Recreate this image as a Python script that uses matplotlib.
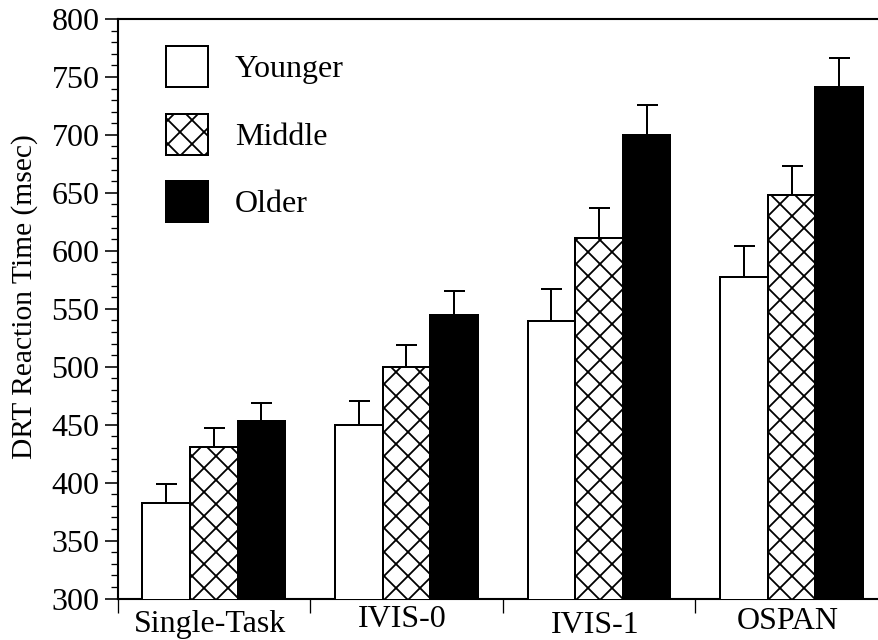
import matplotlib
matplotlib.use("Agg")
import matplotlib.pyplot as plt
import numpy as np
from matplotlib.ticker import MultipleLocator
from matplotlib.patches import Patch

categories = ["Single-Task", "IVIS-0", "IVIS-1", "OSPAN"]
groups = ["Younger", "Middle", "Older"]
younger = [382, 450, 539, 577]
middle = [431, 500, 611, 648]
older = [453, 545, 700, 741]
younger_err = [17, 20, 28, 27]
middle_err = [16, 19, 26, 25]
older_err = [16, 20, 26, 25]
yticks = [300, 350, 400, 450, 500, 550, 600, 650, 700, 750, 800]

DPI = 72  # 1 pt == 1 px
plt.rcParams['font.family'] = ['Liberation Serif', 'DejaVu Serif']
plt.rcParams['hatch.linewidth'] = 1.8
plt.rcParams['hatch.color'] = 'black'

fig = plt.figure(figsize=(878 / DPI, 640 / DPI), dpi=DPI)
W, H = 878, 640
left_px, right_px, top_px, bot_px = 117.5, 888.0, 19.0, 598.5
aw, ah = right_px - left_px, bot_px - top_px
ax = fig.add_axes([left_px / W, 1 - bot_px / H, aw / W, ah / H])

def ax_x(px):
    return (px - left_px) / aw

def ax_y(py):
    return 1 - (py - top_px) / ah

x = np.arange(len(categories))
bw = 0.247
series = [(younger, younger_err, 'white', ''), (middle, middle_err, 'white', 'x'), (older, older_err, 'black', '')]
for i, (vals, errs, fc, hatch) in enumerate(series):
    pos = x + (i - 1) * bw
    ax.bar(pos, vals, width=bw, bottom=0, color=fc, edgecolor='black', linewidth=2.0,
           hatch=hatch, zorder=3)
    ax.errorbar(pos, vals, yerr=[np.zeros(len(errs)), errs], fmt='none', ecolor='black',
                elinewidth=2.0, capsize=10.5, capthick=2.0, zorder=2)

ax.set_ylim(300, 800)
ax.set_xlim(-0.5, 3.5)
ax.set_yticks(yticks)
ax.yaxis.set_minor_locator(MultipleLocator(10))
ax.tick_params(axis='y', which='major', direction='out', length=13, width=1.6, labelsize=32, pad=5)
ax.tick_params(axis='y', which='minor', direction='out', length=7, width=1.3)

# category boundaries as ticks, labels as text
ax.set_xticks(np.arange(len(categories) + 1) - 0.5)
ax.set_xticklabels([])
ax.tick_params(axis='x', which='major', direction='out', length=14, width=1.3)
baselines = [632, 627, 633, 629]
for xi, lab, b in zip(x, categories, baselines):
    ax.text(xi - 0.02, ax_y(b), lab, transform=ax.get_xaxis_transform(),
            ha='center', va='baseline', fontsize=32)

for s in ['left', 'bottom', 'top']:
    ax.spines[s].set_linewidth(2.1)
ax.spines['right'].set_visible(False)

ax.set_ylabel("DRT Reaction Time (msec)", fontsize=29.5)
ax.yaxis.set_label_coords(ax_x(38), ax_y(297))

handles = [Patch(facecolor='white', edgecolor='black', linewidth=2.0),
           Patch(facecolor='white', edgecolor='black', linewidth=2.0, hatch='x'),
           Patch(facecolor='black', edgecolor='black', linewidth=2.0)]
leg = ax.legend(handles, groups, loc='upper left', fontsize=32, frameon=False,
                handlelength=1.31, handleheight=1.6, labelspacing=0.83, handletextpad=0.85,
                bbox_to_anchor=(ax_x(166), ax_y(46)),
                borderaxespad=0, borderpad=0)

fig.savefig("out.png", dpi=DPI)
